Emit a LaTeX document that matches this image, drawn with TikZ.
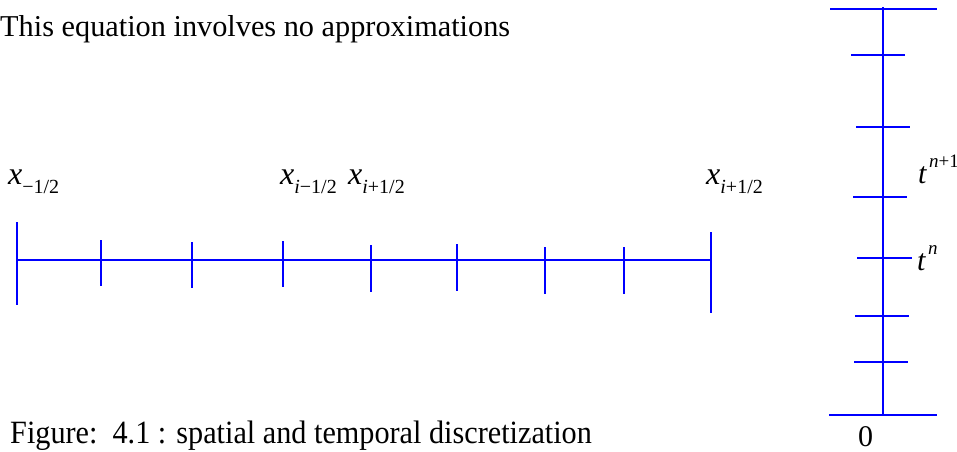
\documentclass[tikz,border=0pt]{standalone}
\usepackage{fontspec}
\setmainfont{Liberation Serif}
\definecolor{axisblue}{RGB}{0,0,255}
\tikzset{
  axisline/.style={draw=axisblue, line width=2pt},
  lbl/.style={inner sep=0pt, anchor=base west},
}
\newcommand\lsub[1]{\raisebox{-9pt}{\fontsize{20}{20}\selectfont #1}}
\newcommand\lsup[1]{\hspace{2pt}\raisebox{16pt}{\fontsize{19}{19}\selectfont #1}}
\newcommand\bigf{\fontsize{32}{32}\selectfont}
\begin{document}
\begin{tikzpicture}[x=1pt,y=-1pt]
\useasboundingbox (0,0) rectangle (957,451);
% texts
\node[lbl, font=\fontsize{30.3}{30}\selectfont] (intro) at (0,36) {This equation involves no approximations};
\node[lbl] (cap) at (10,443) {\scalebox{0.93}[1]{\fontsize{32.5}{33}\selectfont Figure:~~4.1 : spatial and temporal discretization}};
% x labels
\node[lbl] (xa) at (8,184) {\bigf\textit{x}\lsub{−1/2}};
\node[lbl] (xb) at (280,184) {\bigf\textit{x}\lsub{\textit{i}−1/2}};
\node[lbl] (xc) at (348,184) {\bigf\textit{x}\lsub{\textit{i}+1/2}};
\node[lbl] (xd) at (706,184) {\bigf\textit{x}\lsub{\textit{i}+1/2}};
% t labels
\node[lbl] (tnp) at (918,183) {\fontsize{30}{30}\selectfont\textit{t}\lsup{\textit{n}+1}};
\node[lbl] (tn) at (917,270) {\fontsize{30}{30}\selectfont\textit{t}\lsup{\textit{n}}};
\node[lbl] (zero) at (858,446) {\fontsize{30}{30}\selectfont 0};
% space axis
\coordinate (hl) at (17,260);
\coordinate (hr) at (711,260);
\draw[axisline] (hl) -- (hr);
\foreach \x/\a/\b in {17/222/305, 101/240/286, 192/242/288, 283/241/287, 371/245/292, 457/244/291, 545/247/294, 624/247/294, 711/232/313}
  \draw[axisline] (\x,\a) -- (\x,\b);
% time axis
\coordinate (vt) at (883,7);
\coordinate (vb) at (883,415);
\draw[axisline] (vt) -- (vb);
\foreach \y/\a/\b in {9/830/937, 55/851/905, 127/856/910, 197/853/907, 258/857/912, 316/855/909, 362/854/908, 415/829/937}
  \draw[axisline] (\a,\y) -- (\b,\y);
\end{tikzpicture}
\end{document}
